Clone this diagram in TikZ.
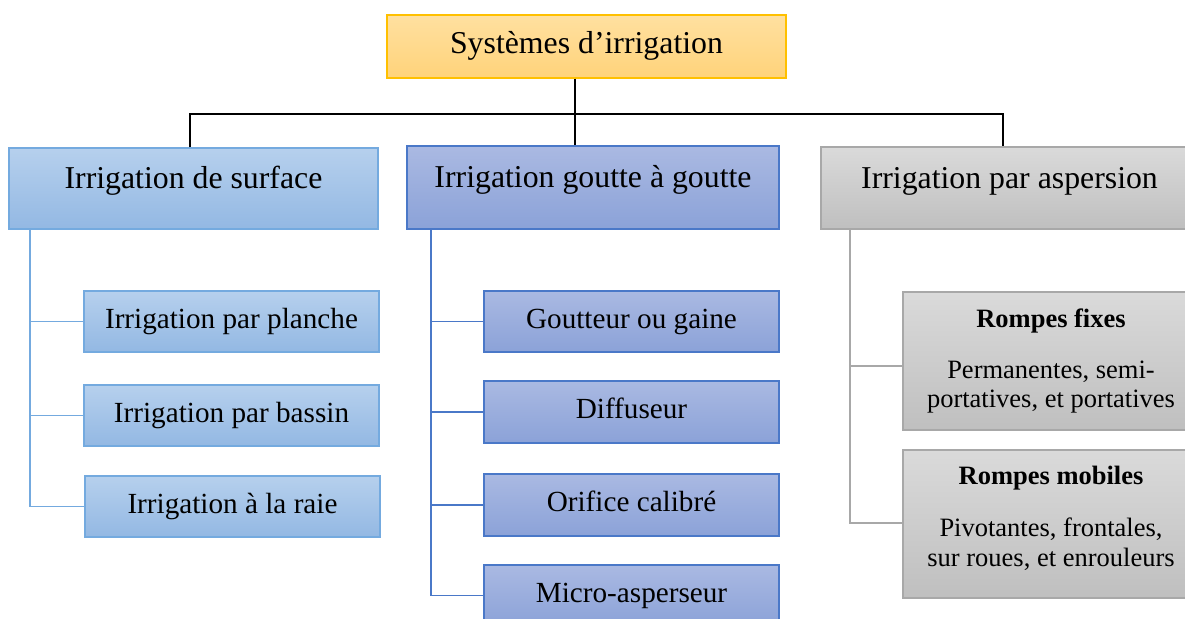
\documentclass[tikz,border=0pt]{standalone}
\usepackage{fontspec}
\setmainfont{Liberation Serif}
\definecolor{topA}{HTML}{FFE0A0}
\definecolor{topB}{HTML}{FFD37A}
\definecolor{topE}{HTML}{FFC000}
\definecolor{sfA}{HTML}{B6D0ED}
\definecolor{sfB}{HTML}{93B8E3}
\definecolor{sfE}{HTML}{74AADF}
\definecolor{gtA}{HTML}{AAB9E2}
\definecolor{gtB}{HTML}{8BA2D8}
\definecolor{gtE}{HTML}{4A78C8}
\definecolor{grA}{HTML}{DADADA}
\definecolor{grB}{HTML}{BFBFBF}
\definecolor{grE}{HTML}{A8A8A8}
\begin{document}
\begin{tikzpicture}[x=1pt,y=-1pt,
  boxbase/.style={rectangle, inner sep=0pt, line width=1.4pt},
  hdrbox/.style={boxbase, font=\fontsize{31.8}{36}\selectfont, text height=24pt, text depth=24pt},
  topbox/.style={boxbase, font=\fontsize{31.8}{36}\selectfont, text height=21.7pt, text depth=6.9pt},
  subbox/.style={boxbase, font=\fontsize{29.2}{33}\selectfont, text height=20pt, text depth=6.3pt},
  grbox/.style={boxbase, align=center, font=\fontsize{26.5}{29.5}\selectfont},
  topc/.style={draw=topE, top color=topA, bottom color=topB},
  sfc/.style={draw=sfE, top color=sfA, bottom color=sfB},
  gtc/.style={draw=gtE, top color=gtA, bottom color=gtB},
  grc/.style={draw=grE, top color=grA, bottom color=grB},
  blackline/.style={draw=black, line width=1.2pt},
  sfline/.style={draw=sfE, line width=1.3pt},
  gtline/.style={draw=gtE, line width=1.3pt},
  grline/.style={draw=grE, line width=1.3pt}]
\useasboundingbox (0,0) rectangle (1185,618);
\fill[white] (0,0) rectangle (1185,618);

% top
\node[topbox, topc, minimum width=399pt, minimum height=63pt] (top) at (586.5,46.5) {Syst\`emes d’irrigation};

% headers
\node[hdrbox, sfc, minimum width=369pt, minimum height=81pt] (surf) at (193.5,188.5) {Irrigation de surface};
\node[hdrbox, gtc, minimum width=372pt, minimum height=83pt] (gout) at (593,187.5) {Irrigation goutte \`a goutte};
\node[hdrbox, grc, minimum width=377pt, minimum height=82pt] (asp) at (1009.5,188) {Irrigation par aspersion};

% surface children
\node[subbox, sfc, minimum width=295pt, minimum height=61pt] (planche) at (231.5,321.5) {Irrigation par planche};
\node[subbox, sfc, minimum width=295pt, minimum height=61pt] (bassin) at (231.5,415.5) {Irrigation par bassin};
\node[subbox, sfc, minimum width=295pt, minimum height=61pt] (raie) at (232.5,506.5) {Irrigation \`a la raie};

% goutte children
\node[subbox, gtc, minimum width=295pt, minimum height=61pt] (gaine) at (631.5,321.5) {Goutteur ou gaine};
\node[subbox, gtc, minimum width=295pt, minimum height=62pt] (diff) at (631.5,412) {Diffuseur};
\node[subbox, gtc, minimum width=295pt, minimum height=62pt] (orif) at (631.5,505) {Orifice calibr\'e};
\node[subbox, gtc, minimum width=295pt, minimum height=61pt] (micro) at (631.5,595.5) {Micro-asperseur};

% aspersion children
\node[grbox, grc, minimum width=296pt, minimum height=138pt] (fixes) at (1051,361) {\textbf{Rompes fixes}\\[21.5pt]Permanentes, semi-\\portatives, et portatives};
\node[grbox, grc, minimum width=296pt, minimum height=148pt] (mobiles) at (1051,524) {\textbf{Rompes mobiles}\\[23pt]Pivotantes, frontales,\\sur roues, et enrouleurs\rule[-16pt]{0pt}{1pt}};

% top connectors
\coordinate (jc) at (575,114);
\coordinate (ja) at (1003,114);
\draw[blackline] (jc |- top.south) -- (jc |- gout.north);
\draw[blackline] ([xshift=-3.5pt]surf.north) |- (ja) -- (ja |- asp.north);

% surface connectors
\coordinate (sv) at (30,229);
\draw[sfline] (sv) |- (raie.west);
\draw[sfline] (sv |- planche.west) -- (planche.west);
\draw[sfline] (sv |- bassin.west) -- (bassin.west);

% goutte connectors
\coordinate (gv) at (431,229);
\draw[gtline] (gv) |- (micro.west);
\draw[gtline] (gv |- gaine.west) -- (gaine.west);
\draw[gtline] (gv |- diff.west) -- (diff.west);
\draw[gtline] (gv |- orif.west) -- (orif.west);

% aspersion connectors
\coordinate (av) at (850,229);
\draw[grline] (av) |- ([yshift=1pt]mobiles.west);
\draw[grline] (av |- 0,366) -- (fixes.west |- 0,366);
\end{tikzpicture}
\end{document}
